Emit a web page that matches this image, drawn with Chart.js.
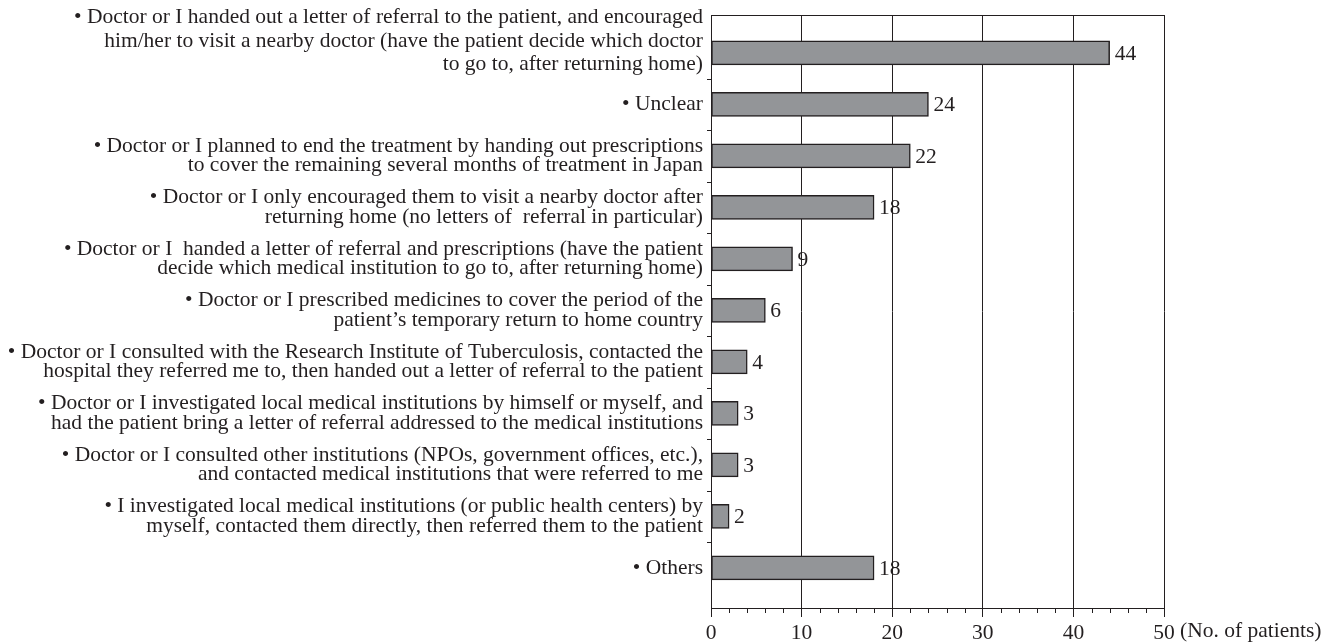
<!DOCTYPE html>
<html>
<head>
<meta charset="utf-8">
<script src="https://cdn.jsdelivr.net/npm/chart.js@4/dist/chart.umd.min.js"></script>
<style>
  body { margin: 0; background: #fff; }
  canvas { display: block; }
</style>
</head>
<body>
<canvas id="responses" width="1324" height="644"></canvas>
<script>
// Data
const answers = [
  ["• Doctor or I handed out a letter of referral to the patient, and encouraged",
   "him/her to visit a nearby doctor (have the patient decide which doctor",
   "to go to, after returning home)"],
  ["• Unclear"],
  ["• Doctor or I planned to end the treatment by handing out prescriptions",
   "to cover the remaining several months of treatment in Japan"],
  ["• Doctor or I only encouraged them to visit a nearby doctor after",
   "returning home (no letters of  referral in particular)"],
  ["• Doctor or I  handed a letter of referral and prescriptions (have the patient",
   "decide which medical institution to go to, after returning home)"],
  ["• Doctor or I prescribed medicines to cover the period of the",
   "patient’s temporary return to home country"],
  ["• Doctor or I consulted with the Research Institute of Tuberculosis, contacted the",
   "hospital they referred me to, then handed out a letter of referral to the patient"],
  ["• Doctor or I investigated local medical institutions by himself or myself, and",
   "had the patient bring a letter of referral addressed to the medical institutions"],
  ["• Doctor or I consulted other institutions (NPOs, government offices, etc.),",
   "and contacted medical institutions that were referred to me"],
  ["• I investigated local medical institutions (or public health centers) by",
   "myself, contacted them directly, then referred them to the patient"],
  ["• Others"]
];
const patients = [44, 24, 22, 18, 9, 6, 4, 3, 3, 2, 18];
const xTickValues = [0, 10, 20, 30, 40, 50];
const xUnit = "(No. of patients)";

const ink = "#231f20";
const serif = "'Liberation Serif', 'Times New Roman', serif";
const fontSize = 21.5;
Chart.defaults.color = ink;
Chart.defaults.font.family = serif;

// extra drawing: top frame, category ticks, minor x ticks, value labels, unit
const extras = {
  id: "extras",
  afterDatasetsDraw(chart) {
    const ctx = chart.ctx;
    const area = chart.chartArea;
    const x = chart.scales.x;
    const y = chart.scales.y;
    ctx.save();
    ctx.strokeStyle = ink;
    ctx.lineWidth = 1;
    ctx.beginPath();
    ctx.moveTo(area.left, Math.round(area.top) + 0.5);
    ctx.lineTo(area.right, Math.round(area.top) + 0.5);
    for (let i = 0; i < answers.length - 1; i++) {
      const py = Math.round(y.getPixelForValue(i + 0.5)) + 0.5;
      ctx.moveTo(area.left - 4, py);
      ctx.lineTo(area.left, py);
    }
    for (let v = 2; v < 50; v += 2) {
      if (v % 10 === 0) continue;
      const px = Math.round(x.getPixelForValue(v)) + 0.5;
      ctx.moveTo(px, area.bottom);
      ctx.lineTo(px, area.bottom + 5);
    }
    ctx.stroke();

    ctx.fillStyle = ink;
    ctx.font = fontSize + "px " + serif;
    ctx.textBaseline = "middle";
    ctx.textAlign = "left";
    chart.getDatasetMeta(0).data.forEach((bar, i) => {
      ctx.fillText(patients[i], bar.x + 5, bar.y + 1);
    });
    ctx.fillText(xUnit, x.getPixelForValue(50) + 16, area.bottom + 23);
    ctx.restore();
  }
};

new Chart(document.getElementById("responses"), {
  type: "bar",
  data: {
    datasets: [{
      data: patients.map((v, i) => ({ x: v, y: i })),
      backgroundColor: "#939598",
      borderColor: ink,
      borderWidth: 1.5,
      borderSkipped: false,
      barThickness: 24
    }]
  },
  options: {
    indexAxis: "y",
    responsive: false,
    animation: false,
    layout: { padding: { top: 15, right: 160, left: 0, bottom: 0 } },
    plugins: { legend: { display: false }, tooltip: { enabled: false } },
    scales: {
      x: {
        type: "linear",
        min: 0,
        max: 50,
        afterBuildTicks: (scale) => { scale.ticks = xTickValues.map(v => ({ value: v })); },
        afterFit: (scale) => {
          scale.height = 36;
          scale.paddingLeft = 0;
          scale.paddingRight = 0;
        },
        border: { display: true, color: ink, width: 1 },
        grid: { color: ink, lineWidth: 1, drawTicks: true, tickLength: 9, tickColor: ink },
        ticks: { font: { size: fontSize }, padding: 3, color: ink, maxRotation: 0 }
      },
      y: {
        type: "linear",
        reverse: true,
        offset: false,
        min: -0.737,
        max: 10.778,
        afterBuildTicks: (scale) => { scale.ticks = answers.map((a, i) => ({ value: i })); },
        afterFit: (scale) => {
          scale.width = 711;
          scale.paddingTop = 0;
          scale.paddingBottom = 0;
        },
        border: { display: true, color: ink, width: 1 },
        grid: { display: false, drawTicks: false, offset: false },
        ticks: {
          padding: 8,
          color: ink,
          autoSkip: false,
          font: (c) => ({ size: fontSize, lineHeight: c.index === 0 ? "23.5px" : "19.5px" }),
          callback: (v) => v === 0 ? answers[0].concat([""]) : answers[v]
        }
      }
    }
  },
  plugins: [extras]
});
</script>
</body>
</html>
